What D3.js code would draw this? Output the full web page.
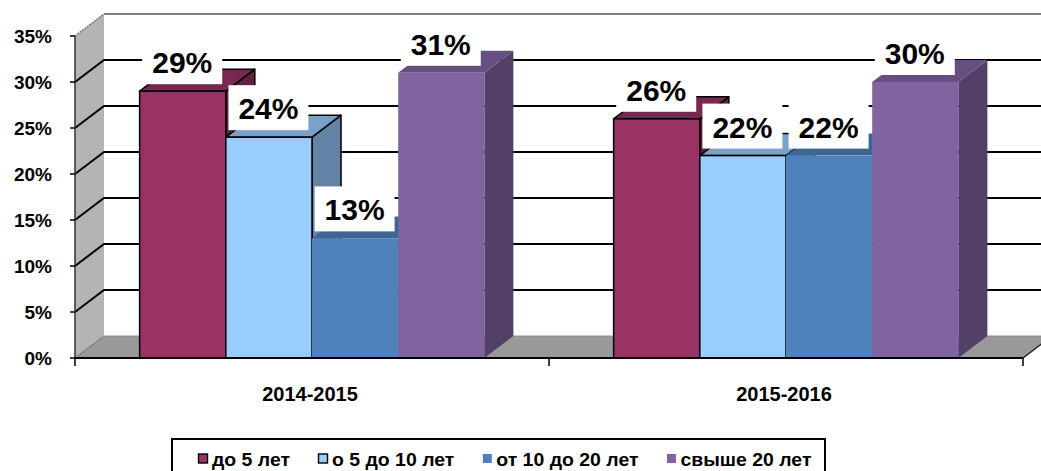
<!DOCTYPE html>
<html><head><meta charset="utf-8">
<script src="https://cdn.jsdelivr.net/npm/d3@7"></script>
<style>html,body{margin:0;padding:0;background:#fff}svg{display:block;font-family:"Liberation Sans",Arial,sans-serif;font-weight:bold}</style>
</head><body><svg id="c" width="1041" height="471"></svg>
<script>
const categories = ["2014-2015", "2015-2016"];
const seriesNames = ["до 5 лет", "о 5 до 10 лет", "от 10 до 20 лет", "свыше 20 лет"];
const values2014_2015 = [0.29, 0.24, 0.13, 0.31];
const values2015_2016 = [0.26, 0.22, 0.22, 0.30];
const dataLabels2014_2015 = ["29%", "24%", "13%", "31%"];
const dataLabels2015_2016 = ["26%", "22%", "22%", "30%"];
const seriesColors = ["#993366", "#99CCFF", "#4F81BD", "#8064A2"];
const seriesOutlined = [true, true, false, false];
const yTicks = [0, 0.05, 0.10, 0.15, 0.20, 0.25, 0.30, 0.35];
const yTickLabels = ["0%", "5%", "10%", "15%", "20%", "25%", "30%", "35%"];

const values = [values2014_2015, values2015_2016];
const labels = [dataLabels2014_2015, dataLabels2015_2016];

const svg = d3.select("#c");
const DX = 29, DY = -22;
const y = d3.scaleLinear().domain([0, 0.35]).range([358, 36]);
const x = d3.scaleBand().domain(categories).range([75, 1023]).padding(0);
const xs = d3.scaleBand().domain(d3.range(seriesNames.length)).range([0, x.bandwidth()]).paddingInner(0).paddingOuter(0.75);

const x0 = x.range()[0], x1 = x.range()[1];
const y0 = y(0), yTop = y(0.35);

// left wall
svg.append("path").attr("d", `M${x0},${y0}L${x0},${yTop}L${x0+DX},${yTop+DY}L${x0+DX},${y0+DY}Z`)
  .attr("fill", "#b4b4b4");
// floor
svg.append("path").attr("d", `M${x0},${y0}L${x1},${y0}L${x1+DX},${y0+DY}L${x0+DX},${y0+DY}Z`)
  .attr("fill", "#999999");
svg.append("line").attr("x1", x0+DX).attr("x2", x1+DX).attr("y1", y0+DY).attr("y2", y0+DY)
  .attr("stroke", "#8a8a8a").attr("stroke-width", 1);
svg.append("line").attr("x1", x0).attr("y1", yTop).attr("x2", x0+DX).attr("y2", yTop+DY)
  .attr("stroke", "#777").attr("stroke-width", 1.5).attr("stroke-dasharray", "2,1");
svg.append("line").attr("x1", x0).attr("y1", y0).attr("x2", x0+DX).attr("y2", y0+DY)
  .attr("stroke", "#777").attr("stroke-width", 1.5).attr("stroke-dasharray", "2,1");
svg.append("line").attr("x1", x0+DX).attr("x2", 1041).attr("y1", yTop+DY).attr("y2", yTop+DY)
  .attr("stroke", "#808080").attr("stroke-width", 2);

// gridlines
const gridTicks = yTicks.filter(t => t > 0 && t < 0.35);
svg.append("g").selectAll("path").data(gridTicks).join("path")
  .attr("d", t => `M${x0},${y(t)}L${x0+DX},${y(t)+DY}L${x1+DX},${y(t)+DY}`)
  .attr("fill", "none").attr("stroke", "#000").attr("stroke-width", 2);

// y axis
svg.append("line").attr("x1", x0).attr("x2", x0).attr("y1", yTop).attr("y2", y0)
  .attr("stroke", "#333").attr("stroke-width", 1.5);
const ya = svg.append("g");
ya.selectAll("line").data(yTicks).join("line")
  .attr("x1", x0-5).attr("x2", x0).attr("y1", d => y(d)).attr("y2", d => y(d))
  .attr("stroke", "#000").attr("stroke-width", 1.5);
ya.selectAll("text").data(yTicks).join("text")
  .attr("x", 52).attr("y", d => y(d)).attr("dy", "0.36em")
  .attr("text-anchor", "end").attr("font-size", 19).text((d, i) => yTickLabels[i]);

// bars
function shade(c, k) { const r = d3.rgb(c); return d3.rgb(r.r*k, r.g*k, r.b*k).formatHex(); }
categories.forEach((cat, ci) => {
  values[ci].forEach((v, si) => {
    const bx = x(cat) + xs(si), bw = xs.bandwidth();
    const ty = y(v);
    const g = svg.append("g");
    const st = seriesOutlined[si] ? "#000" : "none";
    g.append("path").attr("d", `M${bx+bw},${y0}L${bx+bw},${ty}L${bx+bw+DX},${ty+DY}L${bx+bw+DX},${y0+DY}Z`)
      .attr("fill", shade(seriesColors[si], 0.64)).attr("stroke", st).attr("stroke-width", 1.5).attr("stroke-linejoin", "round");
    g.append("path").attr("d", `M${bx},${ty}L${bx+DX},${ty+DY}L${bx+bw+DX},${ty+DY}L${bx+bw},${ty}Z`)
      .attr("fill", shade(seriesColors[si], 0.79)).attr("stroke", st).attr("stroke-width", 1.5).attr("stroke-linejoin", "round");
    g.append("rect").attr("x", bx).attr("y", ty).attr("width", bw).attr("height", y0 - ty)
      .attr("fill", seriesColors[si]).attr("stroke", st).attr("stroke-width", 1.5);
  });
});

// category axis line & ticks
svg.append("line").attr("x1", x0).attr("x2", x1).attr("y1", y0).attr("y2", y0)
  .attr("stroke", "#000").attr("stroke-width", 2);
svg.append("line").attr("x1", x1).attr("y1", y0).attr("x2", x1+DX).attr("y2", y0+DY)
  .attr("stroke", "#222").attr("stroke-width", 1.5);
const catEdges = [x0].concat(categories.map(c => x(c) + x.bandwidth()));
svg.append("g").selectAll("line").data(catEdges).join("line")
  .attr("x1", d => d).attr("x2", d => d).attr("y1", y0).attr("y2", y0 + 8)
  .attr("stroke", "#000").attr("stroke-width", 1.5);
svg.append("g").selectAll("text").data(categories).join("text")
  .attr("x", d => x(d) + x.bandwidth()/2 - 2).attr("y", 401)
  .attr("text-anchor", "middle").attr("font-size", 20).text(d => d);

// data labels
categories.forEach((cat, ci) => {
  values[ci].forEach((v, si) => {
    const cx = x(cat) + xs(si) + xs.bandwidth()/2 - 0.5;
    const bottom = y(v) - 7;
    const g = svg.append("g");
    g.append("rect").attr("x", cx - 40).attr("y", bottom - 45).attr("width", 80).attr("height", 45).attr("fill", "#fff");
    g.append("text").attr("x", cx).attr("y", bottom - 11).attr("text-anchor", "middle")
      .attr("font-size", 30).text(labels[ci][si]);
  });
});

// legend
svg.append("rect").attr("x", 172).attr("y", 439).attr("width", 653).attr("height", 50)
  .attr("fill", "#fff").attr("stroke", "#000").attr("stroke-width", 2);
let lx = 198;
seriesNames.forEach((name, si) => {
  svg.append("rect").attr("x", lx + 0.5).attr("y", 454).attr("width", 9).attr("height", 9)
    .attr("fill", seriesColors[si]).attr("stroke", seriesOutlined[si] ? "#000" : "none").attr("stroke-width", 1.4);
  const t = svg.append("text").attr("x", lx + 14).attr("y", 466).attr("font-size", 18).text(name);
  const w = t.node().getComputedTextLength() * 1.08;
  t.attr("textLength", w).attr("lengthAdjust", "spacingAndGlyphs");
  lx += 14 + w + 28;
});
</script></body></html>
